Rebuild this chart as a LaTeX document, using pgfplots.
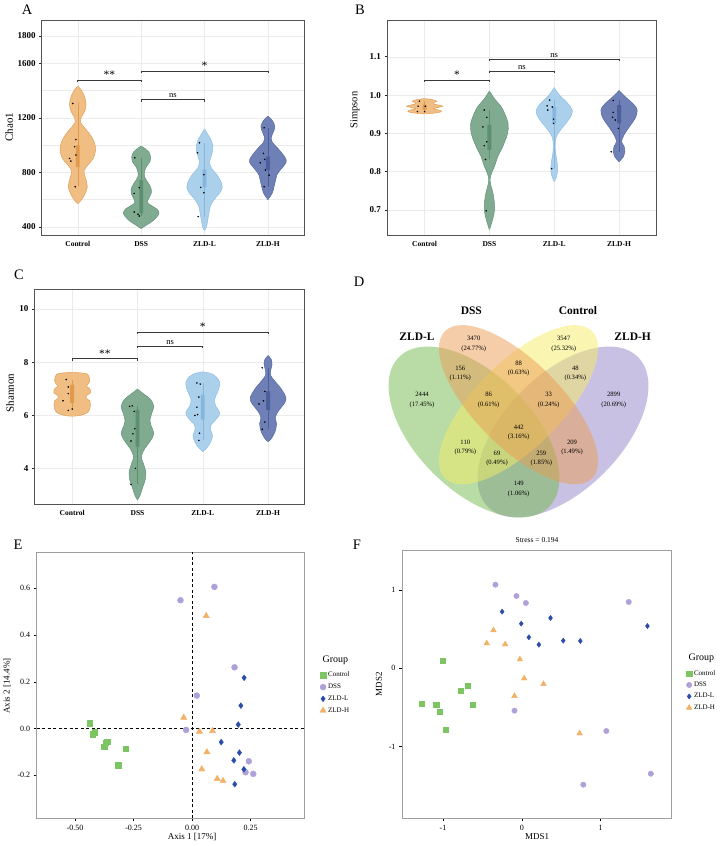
\documentclass[border=0pt]{standalone}
\usepackage{pgfplots}
\pgfplotsset{compat=1.18}
\usepackage{pgfplotstable}
\usepackage{fontspec}
\setmainfont{Liberation Serif}
\newcommand{\fs}[1]{\fontsize{#1}{#1}\selectfont}

\definecolor{cF}{HTML}{F0BE82}\definecolor{cE}{HTML}{DFA05A}\definecolor{cB}{HTML}{E09A4E}
\definecolor{dF}{HTML}{80AB90}\definecolor{dE}{HTML}{62937A}\definecolor{dB}{HTML}{5C8E70}
\definecolor{lF}{HTML}{AAD0EC}\definecolor{lE}{HTML}{90BEE3}\definecolor{lB}{HTML}{86B6DD}
\definecolor{hF}{HTML}{6E80B5}\definecolor{hE}{HTML}{56689F}\definecolor{hB}{HTML}{4C5F9C}
\definecolor{pCtrl}{HTML}{7DC462}\definecolor{pDSS}{HTML}{AFA0D8}
\definecolor{pL}{HTML}{2B4DAA}\definecolor{pH}{HTML}{F2B167}
\definecolor{vG}{HTML}{73B94D}\definecolor{vP}{HTML}{9383C7}
\definecolor{vO}{HTML}{EB9B53}\definecolor{vY}{HTML}{F5ED65}

% violin: table, center, fill, edge
\newcommand{\violin}[4]{%
 \addplot[fill=#3, draw=#4, line width=0.5pt, smooth, tension=0.6, forget plot] table[x expr={#2+\thisrow{w}}, y=y]{#1};
 \addplot[fill=#3, draw=#4, line width=0.5pt, smooth, tension=0.6, forget plot] table[x expr={#2-\thisrow{w}}, y=y]{#1};
 \addplot[draw=#3, line width=0.9pt, forget plot] table[x expr={#2}, y=y]{#1};
}

\pgfplotsset{
 violinax/.style={
  anchor=south west, scale only axis,
  xmin=0.43, xmax=4.57, xtick={1,2,3,4}, xticklabels={Control,DSS,ZLD-L,ZLD-H},
  xmajorgrids, ymajorgrids, grid style={draw=gray!16, line width=0.5pt},
  minor grid style={draw=gray!16, line width=0.5pt},
  axis line style={draw=gray!65!black, line width=0.9pt},
  tick align=outside, tick pos=left, major tick length=2.5pt, minor tick length=0pt,
  tick style={draw=gray!30!black, line width=0.6pt},
  xtick style={draw=none},
  xticklabel style={font=\bfseries\fs{7.5}},
  yticklabel style={font=\bfseries\fs{9}},
  /pgf/number format/assume math mode=true,
  /pgf/number format/set thousands separator={},
  scaled ticks=false,
 },
 scatax/.style={
  anchor=south west, scale only axis, clip=false,
  axis line style={draw=gray!75, line width=1pt},
  tick align=outside, tick pos=left, major tick length=3pt,
  tick style={draw=black, line width=0.6pt},
  ticklabel style={font=\fs{8}},
  /pgf/number format/assume math mode=true,
  scaled ticks=false,
  legend cell align=left,
  legend image code/.code={\draw[mark repeat=2,mark phase=2,##1] plot coordinates {(0pt,0pt) (3pt,0pt) (6pt,0pt)};},
 },
}

% ---------- violin data: y, half-width (right side, bottom to top)
\pgfplotstableread{
y w
570 0
600 0.06
640 0.11
690 0.15
730 0.14
775 0.11
815 0.10
855 0.16
900 0.24
960 0.28
1020 0.26
1080 0.19
1130 0.10
1170 0.04
1200 0.05
1250 0.11
1300 0.13
1350 0.11
1400 0.06
1432 0
}\tAc
\pgfplotstableread{
y w
388 0
410 0.07
440 0.17
470 0.24
500 0.28
530 0.25
560 0.15
580 0.10
610 0.12
650 0.16
690 0.15
730 0.10
770 0.05
800 0.05
840 0.08
880 0.14
910 0.15
950 0.12
975 0.06
993 0
}\tAd
\pgfplotstableread{
y w
372 0
400 0.03
450 0.05
500 0.07
550 0.09
600 0.15
650 0.24
690 0.28
720 0.27
780 0.2
830 0.11
880 0.08
940 0.12
1000 0.13
1040 0.10
1080 0.05
1120 0
}\tAl
\pgfplotstableread{
y w
600 0
650 0.07
700 0.10
740 0.12
780 0.14
820 0.2
860 0.27
890 0.29
930 0.24
980 0.15
1020 0.07
1050 0.05
1090 0.08
1135 0.11
1180 0.07
1212 0
}\tAh
%
\pgfplotstableread{
y w
0.951 0
0.954 0.2
0.958 0.26
0.961 0.22
0.964 0.14
0.967 0.19
0.971 0.28
0.974 0.22
0.977 0.14
0.981 0.15
0.984 0.19
0.988 0.12
0.991 0
}\tBc
\pgfplotstableread{
y w
0.648 0
0.67 0.04
0.69 0.07
0.71 0.08
0.74 0.06
0.76 0.03
0.778 0.01
0.795 0.03
0.815 0.08
0.84 0.13
0.86 0.19
0.88 0.24
0.90 0.28
0.925 0.29
0.95 0.24
0.97 0.18
0.99 0.08
1.011 0
}\tBd
\pgfplotstableread{
y w
0.774 0
0.785 0.03
0.80 0.05
0.815 0.05
0.83 0.04
0.85 0.02
0.87 0.015
0.89 0.03
0.905 0.08
0.92 0.15
0.94 0.24
0.96 0.28
0.98 0.2
1.00 0.08
1.02 0
}\tBl
\pgfplotstableread{
y w
0.826 0
0.84 0.07
0.852 0.09
0.865 0.08
0.878 0.04
0.89 0.06
0.90 0.09
0.92 0.17
0.94 0.25
0.96 0.28
0.975 0.23
0.995 0.1
1.012 0
}\tBh
%
\pgfplotstableread{
y w
5.97 0
6.0 0.12
6.1 0.23
6.25 0.27
6.4 0.28
6.55 0.27
6.65 0.21
6.75 0.22
6.85 0.28
7.0 0.27
7.1 0.22
7.2 0.25
7.3 0.27
7.5 0.25
7.58 0.2
7.62 0
}\tCc
\pgfplotstableread{
y w
2.82 0
3.0 0.04
3.3 0.08
3.6 0.12
3.85 0.13
4.2 0.09
4.45 0.06
4.75 0.11
5.05 0.2
5.33 0.25
5.6 0.21
5.8 0.19
6.1 0.22
6.34 0.25
6.6 0.2
6.8 0.1
6.99 0
}\tCd
\pgfplotstableread{
y w
4.64 0
4.8 0.07
5.0 0.12
5.25 0.15
5.45 0.12
5.65 0.13
5.9 0.22
6.1 0.26
6.35 0.2
6.6 0.18
6.9 0.23
7.15 0.26
7.35 0.24
7.55 0.15
7.64 0
}\tCl
\pgfplotstableread{
y w
5.02 0
5.1 0.04
5.3 0.09
5.5 0.12
5.7 0.13
5.9 0.11
6.1 0.14
6.3 0.2
6.5 0.26
6.7 0.27
7.0 0.2
7.3 0.1
7.5 0.04
7.7 0.04
7.9 0.06
8.1 0.05
8.25 0
}\tCh

\begin{document}
\begin{tikzpicture}
\useasboundingbox (0pt,0pt) rectangle (725pt,-846pt);

% ================= A =================
\begin{axis}[violinax, at={(41.7pt,-235.7pt)}, width=262.3pt, height=215.7pt,
  ymin=336, ymax=1917, ytick={400,800,1200,1600,1800}, minor ytick={600,1000,1400}, yminorgrids]
\violin{\tAc}{1}{cF}{cE}
\violin{\tAd}{2}{dF}{dE}
\violin{\tAl}{3}{lF}{lE}
\violin{\tAh}{4}{hF}{hE}
\addplot[draw=cB, line width=0.5pt] coordinates {(1,700) (1,1310)};
\addplot[fill=cB, draw=none] coordinates {(0.97,840) (1.03,840) (1.03,1000) (0.97,1000) (0.97,840)};
\addplot[draw=dB, line width=0.5pt] coordinates {(2,480) (2,907)};
\addplot[fill=dB, draw=none] coordinates {(1.97,500) (2.03,500) (2.03,744) (1.97,744) (1.97,500)};
\addplot[draw=lB, line width=0.5pt] coordinates {(3,476) (3,1017)};
\addplot[fill=lB, draw=none] coordinates {(2.97,690) (3.03,690) (3.03,820) (2.97,820) (2.97,690)};
\addplot[draw=hB, line width=0.5pt] coordinates {(4,695) (4,1127)};
\addplot[fill=hB, draw=none] coordinates {(3.97,817) (4.03,817) (4.03,915) (3.97,915) (3.97,817)};
\addplot[only marks, mark=*, mark size=0.55pt, black] coordinates {
 (0.92,1305) (0.97,1041) (0.95,988) (0.97,927) (0.87,902) (0.89,883) (0.96,695)
 (1.9,907) (1.97,688) (1.89,646) (1.89,510) (1.95,493) (1.97,480)
 (2.92,1017) (2.89,944) (2.99,783) (2.94,690) (2.99,651) (2.9,476)
 (3.94,1127) (3.93,939) (3.95,895) (3.88,871) (3.96,817) (4.02,780) (3.94,695)};
\addplot[draw=gray!45!black, line width=0.7pt] coordinates {(1,1460) (1,1476) (2,1476) (2,1460)};
\addplot[draw=gray!45!black, line width=0.7pt] coordinates {(2,1528) (2,1544) (4,1544) (4,1528)};
\addplot[draw=gray!45!black, line width=0.7pt] coordinates {(2,1318) (2,1334) (3,1334) (3,1318)};
\node[anchor=south, font=\fs{11.5}, inner sep=1pt] at (axis cs:1.5,1476) {**};
\node[anchor=south, font=\fs{11.5}, inner sep=1pt] at (axis cs:3,1544) {*};
\node[anchor=south, font=\fs{8.5}, inner sep=1.5pt] at (axis cs:2.5,1334) {ns};
\end{axis}

% ================= B =================
\begin{axis}[violinax, at={(387pt,-235.7pt)}, width=269pt, height=215.7pt,
  xmin=0.42, ymin=0.633, ymax=1.196, ytick={0.7,0.8,0.9,1.0,1.1},
  yticklabel style={/pgf/number format/.cd, fixed, fixed zerofill, precision=1}]
\violin{\tBc}{1}{cF}{cE}
\violin{\tBd}{2}{dF}{dE}
\violin{\tBl}{3}{lF}{lE}
\violin{\tBh}{4}{hF}{hE}
\addplot[draw=cB, line width=0.5pt] coordinates {(1,0.957) (1,0.984)};
\addplot[fill=cB, draw=none] coordinates {(0.97,0.962) (1.03,0.962) (1.03,0.975) (0.97,0.975) (0.97,0.962)};
\addplot[draw=dB, line width=0.5pt] coordinates {(2,0.832) (2,0.961)};
\addplot[fill=dB, draw=none] coordinates {(1.97,0.857) (2.03,0.857) (2.03,0.922) (1.97,0.922) (1.97,0.857)};
\addplot[draw=lB, line width=0.5pt] coordinates {(3,0.808) (3,0.987)};
\addplot[fill=lB, draw=none] coordinates {(2.97,0.926) (3.03,0.926) (3.03,0.970) (2.97,0.970) (2.97,0.926)};
\addplot[draw=hB, line width=0.5pt] coordinates {(4,0.852) (4,0.986)};
\addplot[fill=hB, draw=none] coordinates {(3.97,0.926) (4.03,0.926) (4.03,0.974) (3.97,0.974) (3.97,0.926)};
\addplot[only marks, mark=*, mark size=0.55pt, black] coordinates {
 (0.92,0.984) (0.9,0.971) (1.01,0.971) (0.89,0.957) (1.0,0.957)
 (1.92,0.961) (1.96,0.942) (1.9,0.917) (1.96,0.878) (1.92,0.868) (1.94,0.832) (1.95,0.698)
 (2.93,0.987) (2.89,0.972) (2.9,0.961) (2.97,0.969) (2.99,0.937) (2.99,0.926) (2.96,0.808)
 (3.91,0.986) (3.91,0.955) (3.9,0.942) (3.94,0.935) (3.99,0.913) (3.88,0.852)};
\addplot[draw=gray!45!black, line width=0.7pt] coordinates {(1,1.034) (1,1.039) (2,1.039) (2,1.034)};
\addplot[draw=gray!45!black, line width=0.7pt] coordinates {(2,1.058) (2,1.063) (3,1.063) (3,1.058)};
\addplot[draw=gray!45!black, line width=0.7pt] coordinates {(2,1.089) (2,1.094) (4,1.094) (4,1.089)};
\node[anchor=south, font=\fs{11.5}, inner sep=1pt] at (axis cs:1.5,1.039) {*};
\node[anchor=south, font=\fs{8.5}, inner sep=1.5pt] at (axis cs:2.5,1.063) {ns};
\node[anchor=south, font=\fs{8.5}, inner sep=1.5pt] at (axis cs:3,1.094) {ns};
\end{axis}

% ================= C =================
\begin{axis}[violinax, at={(34.3pt,-504.3pt)}, width=269.7pt, height=215pt,
  xmin=0.42, xmax=4.55, ymin=2.66, ymax=10.74, ytick={4,6,8,10}]
\violin{\tCc}{1}{cF}{cE}
\violin{\tCd}{2}{dF}{dE}
\violin{\tCl}{3}{lF}{lE}
\violin{\tCh}{4}{hF}{hE}
\addplot[draw=cB, line width=0.5pt] coordinates {(1,6.19) (1,7.35)};
\addplot[fill=cB, draw=none] coordinates {(0.97,6.47) (1.03,6.47) (1.03,7.16) (0.97,7.16) (0.97,6.47)};
\addplot[draw=dB, line width=0.5pt] coordinates {(2,3.41) (2,6.36)};
\addplot[fill=dB, draw=none] coordinates {(1.97,4.83) (2.03,4.83) (2.03,6.21) (1.97,6.21) (1.97,4.83)};
\addplot[draw=lB, line width=0.5pt] coordinates {(3,5.06) (3,7.22)};
\addplot[fill=lB, draw=none] coordinates {(2.97,5.84) (3.03,5.84) (3.03,6.78) (2.97,6.78) (2.97,5.84)};
\addplot[draw=hB, line width=0.5pt] coordinates {(4,5.48) (4,7.79)};
\addplot[fill=hB, draw=none] coordinates {(3.97,6.21) (4.03,6.21) (4.03,6.9) (3.97,6.9) (3.97,6.21)};
\addplot[only marks, mark=*, mark size=0.55pt, black] coordinates {
 (0.91,7.35) (0.94,7.07) (0.94,6.82) (0.86,6.55) (0.94,6.19) (1.0,6.24)
 (1.92,6.36) (1.88,6.34) (1.95,6.15) (1.96,5.5) (1.93,5.31) (1.9,5.04) (1.97,4.01) (1.9,3.41)
 (2.91,7.22) (2.96,7.18) (2.94,6.69) (2.91,6.31) (2.88,6.0) (2.92,6.03) (2.95,5.33) (2.94,5.06)
 (3.91,7.79) (3.95,6.9) (3.93,6.55) (3.86,6.43) (3.95,5.75) (3.91,5.48)};
\addplot[draw=gray!45!black, line width=0.7pt] coordinates {(1,8.05) (1,8.13) (2,8.13) (2,8.05)};
\addplot[draw=gray!45!black, line width=0.7pt] coordinates {(2,8.52) (2,8.6) (3,8.6) (3,8.52)};
\addplot[draw=gray!45!black, line width=0.7pt] coordinates {(2,9.06) (2,9.14) (4,9.14) (4,9.06)};
\node[anchor=south, font=\fs{11.5}, inner sep=1pt] at (axis cs:1.5,8.13) {**};
\node[anchor=south, font=\fs{8.5}, inner sep=1.5pt] at (axis cs:2.5,8.6) {ns};
\node[anchor=south, font=\fs{11.5}, inner sep=1pt] at (axis cs:3,9.14) {*};
\end{axis}

% ================= D (Venn) =================
\begin{axis}[at={(362pt,-530pt)}, anchor=south west, scale only axis, width=363pt, height=250pt,
  xmin=362, xmax=725, ymin=-530, ymax=-280, axis lines=none, ticks=none, clip=false]
\addplot[draw=none, forget plot] coordinates {(362,-530) (725,-280)};
\fill[vP, fill opacity=0.5] (axis cs:563,-432) ellipse [x radius=106pt, y radius=58pt, rotate=45];
\fill[vG, fill opacity=0.5] (axis cs:474,-432) ellipse [x radius=106pt, y radius=58pt, rotate=-45];
\fill[vY, fill opacity=0.5] (axis cs:518.5,-404.7) ellipse [x radius=104pt, y radius=43pt, rotate=45];
\fill[vO, fill opacity=0.5] (axis cs:518.5,-404.7) ellipse [x radius=104pt, y radius=43pt, rotate=-45];
\end{axis}
\begin{scope}[every node/.style={font=\fontsize{6.6}{9.5}\selectfont, align=center, inner sep=0pt}]
\node at (473.7pt,-344pt) {3470\\(24.77\%)};
\node at (563.7pt,-344pt) {3547\\(25.32\%)};
\node at (460.3pt,-373.3pt) {156\\(1.11\%)};
\node at (518.7pt,-368.3pt) {88\\(0.63\%)};
\node at (575.3pt,-373.3pt) {48\\(0.34\%)};
\node at (422pt,-400pt) {2444\\(17.45\%)};
\node at (488.7pt,-400pt) {86\\(0.61\%)};
\node at (548.7pt,-400pt) {33\\(0.24\%)};
\node at (613.7pt,-400pt) {2899\\(20.69\%)};
\node at (518.7pt,-432.3pt) {442\\(3.16\%)};
\node at (465.3pt,-447.7pt) {110\\(0.79\%)};
\node at (572pt,-447.7pt) {209\\(1.49\%)};
\node at (497pt,-458.7pt) {69\\(0.49\%)};
\node at (541.3pt,-458.7pt) {259\\(1.85\%)};
\node at (518.7pt,-489pt) {149\\(1.06\%)};
\end{scope}
\node[font=\bfseries\fs{11.5}] at (471.3pt,-310.7pt) {DSS};
\node[font=\bfseries\fs{11.5}] at (578pt,-310.7pt) {Control};
\node[font=\bfseries\fs{11.5}] at (417pt,-336.7pt) {ZLD-L};
\node[font=\bfseries\fs{11.5}] at (632.7pt,-336.7pt) {ZLD-H};

% ================= E (PCoA) =================
\begin{axis}[scatax, at={(36.7pt,-818.3pt)}, width=268.3pt, height=266pt,
  xmin=-0.664, xmax=0.482, ymin=-0.384, ymax=0.754,
  xtick={-0.5,-0.25,0,0.25}, ytick={-0.2,0,0.2,0.4,0.6},
  xticklabel style={/pgf/number format/.cd, fixed, fixed zerofill, precision=2},
  yticklabel style={/pgf/number format/.cd, fixed, fixed zerofill, precision=1},
  legend style={at={(1.055,0.558)}, anchor=north west, draw=none, fill=none, font=\fs{7}, inner sep=0pt, row sep=1.6pt}]
\addplot[only marks, mark=square*, mark size=2.7pt, color=pCtrl] coordinates {
 (-0.437,0.023) (-0.426,-0.024) (-0.416,-0.016) (-0.375,-0.077) (-0.369,-0.060) (-0.363,-0.056) (-0.283,-0.086) (-0.316,-0.157)};
\addlegendentry{Control}
\addplot[only marks, mark=*, mark size=3pt, color=pDSS] coordinates {
 (-0.050,0.549) (0.095,0.606) (0.181,0.262) (0.020,0.141) (-0.026,-0.006) (0.242,-0.140) (0.228,-0.187) (0.261,-0.194)};
\addlegendentry{DSS}
\addplot[only marks, mark=diamond*, mark size=2.9pt, color=pL] coordinates {
 (0.222,0.217) (0.208,0.098) (0.197,0.017) (0.124,-0.058) (0.202,-0.103) (0.178,-0.136) (0.221,-0.174) (0.182,-0.238)};
\addlegendentry{ZLD-L}
\addplot[only marks, mark=triangle*, mark size=3.6pt, color=pH] coordinates {
 (0.060,0.482) (-0.036,0.047) (0.031,-0.013) (0.087,-0.010) (0.063,-0.101) (0.041,-0.174) (0.107,-0.215) (0.132,-0.224)};
\addlegendentry{ZLD-H}
\addplot[black, line width=1.1pt, dash pattern=on 3pt off 2.5pt, forget plot] coordinates {(0,-0.384) (0,0.754)};
\addplot[black, line width=1.1pt, dash pattern=on 3pt off 2.5pt, forget plot] coordinates {(-0.664,0) (0.482,0)};
\end{axis}

% ================= F (NMDS) =================
\begin{axis}[scatax, at={(402pt,-818.3pt)}, width=269.3pt, height=268.3pt,
  xmin=-1.52, xmax=1.896, ymin=-1.914, ymax=1.51,
  xtick={-1,0,1}, ytick={-1,0,1},
  legend style={at={(1.055,0.56)}, anchor=north west, draw=none, fill=none, font=\fs{7}, inner sep=0pt, row sep=1.3pt}]
\addplot[only marks, mark=square*, mark size=2.6pt, color=pCtrl] coordinates {
 (-1.008,0.094) (-1.267,-0.451) (-1.085,-0.460) (-1.042,-0.557) (-0.966,-0.783) (-0.775,-0.285) (-0.682,-0.217) (-0.623,-0.460)};
\addlegendentry{Control}
\addplot[only marks, mark=*, mark size=2.7pt, color=pDSS] coordinates {
 (-0.335,1.068) (-0.068,0.923) (0.051,0.834) (1.356,0.847) (-0.093,-0.540) (1.072,-0.800) (0.780,-1.485) (1.636,-1.345)};
\addlegendentry{DSS}
\addplot[only marks, mark=diamond*, mark size=2.6pt, color=pL] coordinates {
 (-0.25,0.723) (-0.008,0.570) (0.364,0.643) (0.089,0.396) (0.216,0.302) (0.525,0.353) (0.742,0.349) (1.593,0.540)};
\addlegendentry{ZLD-L}
\addplot[only marks, mark=triangle*, mark size=3.3pt, color=pH] coordinates {
 (-0.36,0.485) (-0.445,0.319) (-0.212,0.306) (-0.025,0.115) (0.03,-0.128) (0.275,-0.2) (-0.093,-0.353) (0.733,-0.830)};
\addlegendentry{ZLD-H}
\end{axis}

% ================= texts =================
\node[font=\fs{14.5}] at (27pt,-10pt) {A};
\node[font=\fs{14.5}] at (360pt,-10pt) {B};
\node[font=\fs{14.5}] at (19pt,-275pt) {C};
\node[font=\fs{14.5}] at (359pt,-282pt) {D};
\node[font=\fs{14.5}] at (18pt,-545pt) {E};
\node[font=\fs{14.5}] at (357pt,-545pt) {F};
\node[font=\fs{11}, rotate=90] at (9pt,-127pt) {Chao1};
\node[font=\fs{10.5}, rotate=90] at (355pt,-110pt) {Simpson};
\node[font=\fs{11}, rotate=90] at (10pt,-393pt) {Shannon};
\node[font=\fs{9}] at (192pt,-837pt) {Axis 1 [17\%]};
\node[font=\fs{9}, rotate=90] at (7pt,-686pt) {Axis 2 [14.4\%]};
\node[font=\fs{9}] at (537pt,-837pt) {MDS1};
\node[font=\fs{9}, rotate=90] at (379pt,-684pt) {MDS2};
\node[font=\fs{7.5}] at (537pt,-540pt) {Stress = 0.194};
\node[font=\fs{10}, anchor=west] at (319pt,-660pt) {Group};
\node[font=\fs{10}, anchor=west] at (685pt,-658pt) {Group};
\end{tikzpicture}
\end{document}
